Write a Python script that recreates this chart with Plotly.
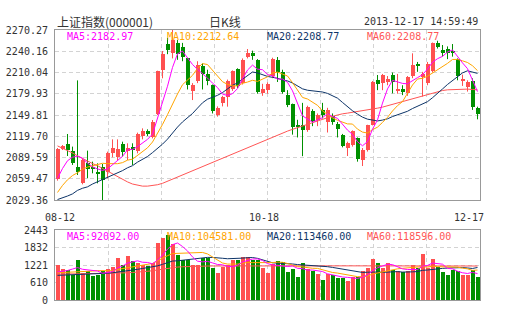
import plotly.graph_objects as go

# ---------------- data ----------------
x_tick_index = [0, 42, 84]
x_tick_text = ["08-12", "10-18", "12-17"]

open_ = [2058.7, 2101.6, 2108.7, 2099.3, 2076.6, 2053.9, 2081.3, 2076.6, 2069.5, 2075.7,
         2069.5, 2095.5, 2089.8, 2108.7, 2099.3, 2104.9, 2098.8, 2120.1, 2127.2, 2118.2,
         2150.8, 2213.6, 2251.0, 2237.0, 2252.0, 2246.0, 2230.0, 2184.5, 2198.0, 2219.3,
         2208.0, 2192.0, 2150.0, 2166.5, 2176.0, 2186.0, 2214.5, 2195.0, 2231.5, 2238.0,
         2228.0, 2181.0, 2185.7, 2205.0, 2228.0, 2211.0, 2178.0, 2165.0, 2136.0, 2136.0,
         2128.0, 2155.0, 2143.0, 2156.6, 2140.0, 2148.0, 2137.0, 2121.0, 2102.6, 2107.0,
         2116.8, 2086.0, 2100.2, 2135.6, 2199.5, 2194.7, 2196.0, 2206.5, 2185.0, 2186.0,
         2181.0, 2204.5, 2222.5, 2203.0, 2195.0, 2211.5, 2252.0, 2242.0, 2243.5, 2240.0,
         2228.5, 2198.5, 2189.0, 2197.5, 2160.0]
high = [2103.0, 2107.3, 2122.9, 2105.0, 2198.85, 2088.4, 2099.3, 2083.7, 2081.3, 2080.4,
        2097.9, 2115.3, 2115.3, 2112.0, 2109.7, 2109.7, 2124.8, 2130.9, 2129.5, 2142.7,
        2212.6, 2240.5, 2259.0, 2270.27, 2256.0, 2252.0, 2231.0, 2195.0, 2226.0, 2223.0,
        2214.0, 2193.0, 2162.0, 2177.0, 2200.0, 2213.0, 2216.0, 2230.0, 2243.3, 2241.0,
        2229.0, 2194.0, 2196.0, 2231.0, 2232.0, 2214.0, 2185.0, 2166.0, 2143.0, 2167.0,
        2163.0, 2158.0, 2152.0, 2167.0, 2160.0, 2152.0, 2140.0, 2123.0, 2112.0, 2128.0,
        2118.0, 2103.0, 2136.0, 2198.0, 2206.5, 2208.0, 2205.0, 2210.0, 2208.0, 2192.0,
        2205.0, 2237.2, 2225.0, 2211.0, 2225.0, 2252.5, 2255.0, 2249.0, 2247.0, 2250.4,
        2230.0, 2207.0, 2199.0, 2201.8, 2161.6]
low = [2056.8, 2100.2, 2091.7, 2079.0, 2064.8, 2051.6, 2060.1, 2067.2, 2053.0, 2029.36,
       2060.1, 2089.8, 2086.0, 2090.8, 2086.0, 2079.0, 2095.5, 2115.3, 2120.1, 2116.7,
       2149.8, 2201.8, 2236.0, 2230.0, 2228.0, 2226.0, 2186.0, 2171.0, 2195.0, 2186.0,
       2192.0, 2152.0, 2147.5, 2162.0, 2161.6, 2184.0, 2188.0, 2193.0, 2230.0, 2228.0,
       2180.0, 2177.0, 2180.0, 2202.0, 2196.6, 2180.0, 2161.0, 2122.0, 2118.0, 2091.5,
       2126.0, 2134.0, 2134.0, 2145.0, 2125.0, 2136.0, 2118.0, 2104.0, 2091.7, 2105.0,
       2083.7, 2077.5, 2098.0, 2135.0, 2185.0, 2185.0, 2192.0, 2180.5, 2180.0, 2178.0,
       2177.0, 2202.0, 2211.0, 2176.0, 2192.0, 2210.0, 2244.0, 2232.5, 2229.0, 2232.5,
       2199.0, 2191.0, 2183.0, 2157.0, 2143.7]
close = [2101.28, 2106.15, 2100.14, 2081.79, 2068.45, 2085.71, 2072.96, 2072.81, 2067.25, 2057.46,
         2096.47, 2103.57, 2101.30, 2097.23, 2103.2, 2100.2, 2123.11, 2127.62, 2122.44, 2139.86,
         2212.52, 2236.85, 2241.27, 2255.61, 2236.28, 2231.40, 2191.85, 2191.90, 2221.04, 2207.84,
         2198.6, 2155.80, 2160.30, 2174.67, 2198.11, 2211.60, 2191.29, 2228.15, 2238.29, 2233.41,
         2182.81, 2187.15, 2193.78, 2229.25, 2210.65, 2183.11, 2164.41, 2132.98, 2133.87, 2128.86,
         2160.46, 2141.61, 2149.56, 2149.62, 2157.24, 2139.80, 2129.40, 2106.13, 2109.47, 2126.77,
         2087.94, 2100.51, 2135.83, 2197.22, 2193.13, 2206.61, 2200.98, 2196.38, 2186.11, 2183.12,
         2203.60, 2220.50, 2220.50, 2207.37, 2222.67, 2251.76, 2245.66, 2237.11, 2238.00, 2237.92,
         2204.44, 2201.05, 2196.07, 2160.86, 2151.08]

ma5 = [2060.0, 2074.0, 2085.0, 2090.0, 2091.6, 2088.4, 2081.8, 2076.3, 2073.4, 2071.2,
       2073.4, 2079.5, 2085.2, 2091.2, 2100.4, 2101.1, 2105.0, 2110.3, 2115.3, 2122.6,
       2145.1, 2167.9, 2190.6, 2217.2, 2236.5, 2240.3, 2231.3, 2221.4, 2214.5, 2208.8,
       2202.2, 2195.0, 2188.7, 2179.4, 2177.5, 2180.1, 2187.2, 2200.8, 2213.5, 2220.5,
       2214.8, 2214.0, 2207.1, 2205.3, 2200.7, 2200.8, 2196.2, 2184.1, 2165.0, 2148.6,
       2144.1, 2139.6, 2142.9, 2146.0, 2151.7, 2147.6, 2145.1, 2136.4, 2128.4, 2122.3,
       2111.9, 2106.2, 2112.1, 2129.7, 2142.9, 2166.7, 2186.8, 2198.9, 2196.6, 2194.6,
       2194.0, 2197.9, 2202.8, 2207.0, 2214.9, 2224.6, 2229.6, 2232.9, 2239.0, 2242.1,
       2232.6, 2223.7, 2215.5, 2200.1, 2182.97]
ma10 = [2040.0, 2050.0, 2058.0, 2064.0, 2068.0, 2073.0, 2076.0, 2078.0, 2080.0, 2081.4,
        2080.9, 2080.7, 2080.8, 2082.3, 2085.8, 2087.2, 2092.3, 2097.7, 2103.3, 2111.5,
        2123.1, 2136.4, 2150.4, 2166.3, 2179.6, 2192.7, 2199.6, 2206.0, 2215.9, 2222.7,
        2221.3, 2213.2, 2205.1, 2197.0, 2193.2, 2191.2, 2191.1, 2194.7, 2196.5, 2199.0,
        2197.4, 2200.6, 2203.9, 2209.4, 2210.6, 2207.8, 2205.1, 2195.6, 2185.1, 2174.7,
        2172.5, 2167.9, 2163.5, 2155.5, 2150.2, 2145.8, 2142.3, 2139.7, 2137.2, 2137.0,
        2129.8, 2125.6, 2124.3, 2129.0, 2132.6, 2139.3, 2146.5, 2155.5, 2163.1, 2168.8,
        2180.3, 2192.3, 2200.8, 2201.8, 2204.8, 2209.3, 2213.8, 2217.8, 2223.0, 2228.5,
        2228.6, 2226.6, 2224.2, 2219.6, 2212.64]
ma20 = [2030.0, 2032.0, 2035.0, 2038.0, 2043.0, 2046.0, 2048.0, 2052.0, 2055.0, 2059.0,
        2062.0, 2065.0, 2068.0, 2071.0, 2075.0, 2078.0, 2083.0, 2087.0, 2091.0, 2096.5,
        2102.0, 2108.5, 2115.6, 2124.3, 2132.7, 2140.0, 2145.9, 2151.9, 2159.6, 2167.1,
        2172.2, 2174.8, 2177.7, 2181.6, 2186.4, 2191.9, 2195.3, 2200.4, 2206.2, 2210.8,
        2209.4, 2206.9, 2204.5, 2203.2, 2201.9, 2199.5, 2198.1, 2195.2, 2190.8, 2186.9,
        2184.9, 2184.2, 2183.7, 2182.4, 2180.4, 2176.8, 2173.7, 2167.6, 2161.2, 2155.8,
        2151.1, 2146.8, 2143.9, 2142.3, 2141.4, 2142.6, 2144.4, 2147.6, 2150.2, 2152.9,
        2155.1, 2159.0, 2162.5, 2165.4, 2168.7, 2174.3, 2180.1, 2186.7, 2193.1, 2198.6,
        2204.5, 2209.5, 2212.5, 2210.7, 2208.77]
ma60 = [2106, 2103, 2099, 2096, 2092, 2088, 2085, 2081, 2078, 2074,
        2070, 2066, 2062, 2058, 2055, 2052, 2050, 2049, 2049, 2049.5,
        2051, 2053, 2056, 2059, 2062, 2065, 2068, 2071, 2074, 2077,
        2080, 2083, 2086, 2089, 2092, 2095, 2098, 2101, 2104, 2107,
        2110, 2113, 2116, 2119, 2122, 2124.5, 2127, 2129.5, 2132, 2134.5,
        2137, 2139.5, 2142, 2144, 2146, 2148, 2150, 2151.5, 2152.5, 2153.5,
        2154.5, 2155.5, 2156.5, 2158, 2159.5, 2161, 2163, 2165, 2167, 2169,
        2171, 2173, 2175, 2177, 2179, 2181, 2183, 2184.5, 2185.5, 2186,
        2186.5, 2186.5, 2186.5, 2186, 2185.5]

volume = [1233, 1093, 1035, 884, 1408, 942, 1000, 826, 884, 1000,
          1093, 1152, 1466, 1210, 1524, 1350, 1291, 1210, 1175, 1291,
          1989, 2164, 2257, 1954, 1582, 1384, 1384, 1210, 1210, 1466,
          1466, 1117, 942, 1152, 1210, 1384, 1384, 1489, 1489, 1410,
          1410, 1100, 945, 1240, 1355, 1325, 975, 1065, 810, 1300,
          1065, 995, 900, 710, 900, 880, 760, 760, 650, 790,
          800, 1000, 1110, 1420, 1290, 1120, 1290, 1050, 1000, 980,
          1000, 1230, 1100, 1590, 1110, 1420, 1150, 980, 860, 1030,
          1000, 880, 860, 1050, 815]
vma5 = [980, 1000, 1030, 1080, 1131, 1072, 1054, 1012, 1012, 930,
        961, 991, 1119, 1184, 1289, 1340, 1368, 1317, 1310, 1263,
        1391, 1566, 1775, 1931, 1989, 1868, 1712, 1503, 1354, 1331,
        1347, 1294, 1240, 1229, 1177, 1161, 1214, 1324, 1391, 1431,
        1436, 1380, 1271, 1221, 1210, 1193, 1168, 1192, 1106, 1095,
        1043, 1047, 1014, 994, 914, 877, 830, 802, 790, 768,
        752, 800, 870, 1024, 1124, 1188, 1246, 1234, 1150, 1088,
        1064, 1052, 1062, 1180, 1206, 1290, 1274, 1250, 1104, 1088,
        1004, 950, 926, 964, 921]
vma10 = [950, 955, 960, 965, 975, 985, 995, 1010, 1025, 1031,
         1017, 1022, 1066, 1098, 1110, 1151, 1180, 1218, 1247, 1276,
         1366, 1467, 1546, 1621, 1626, 1630, 1639, 1639, 1643, 1660,
         1608, 1503, 1372, 1291, 1254, 1254, 1254, 1282, 1310, 1304,
         1299, 1297, 1297, 1306, 1321, 1315, 1274, 1231, 1164, 1153,
         1118, 1108, 1103, 1050, 1005, 960, 939, 908, 892, 841,
         815, 815, 836, 907, 946, 970, 1023, 1052, 1087, 1106,
         1126, 1149, 1148, 1165, 1147, 1177, 1163, 1156, 1142, 1147,
         1147, 1112, 1088, 1034, 1046]
vma20 = [860, 865, 870, 875, 880, 890, 900, 905, 910, 920,
         935, 950, 970, 990, 1010, 1040, 1070, 1100, 1125, 1153,
         1191, 1245, 1306, 1359, 1368, 1390, 1409, 1429, 1445, 1468,
         1487, 1485, 1459, 1456, 1440, 1442, 1447, 1461, 1476, 1482,
         1453, 1400, 1334, 1299, 1287, 1284, 1264, 1257, 1237, 1228,
         1208, 1202, 1200, 1178, 1163, 1137, 1106, 1070, 1028, 997,
         966, 961, 970, 979, 975, 965, 981, 980, 990, 974,
         970, 982, 992, 1036, 1047, 1074, 1093, 1104, 1115, 1127,
         1137, 1131, 1118, 1100, 1135]
vma60 = [900, 902, 904, 906, 908, 910, 912, 914, 916, 918,
         920, 925, 930, 940, 950, 960, 970, 985, 1000, 1020,
         1050, 1080, 1110, 1130, 1150, 1160, 1170, 1175, 1180, 1183,
         1185, 1187, 1188, 1190, 1190, 1190, 1191, 1192, 1193, 1194,
         1195, 1196, 1197, 1198, 1199, 1200, 1201, 1202, 1202, 1202,
         1201, 1200, 1199, 1198, 1197, 1196, 1195, 1194, 1193, 1192,
         1191, 1190, 1190, 1190, 1190, 1190, 1190, 1190, 1190, 1190,
         1190, 1190, 1190, 1190, 1189, 1189, 1188, 1188, 1188, 1187,
         1187, 1187, 1186, 1186, 1186]

price_tick_vals = [2029.36, 2059.47, 2089.59, 2119.70, 2149.81, 2179.93, 2210.04, 2240.16, 2270.27]
price_tick_text = ["2029.36", "2059.47", "2089.59", "2119.70", "2149.81", "2179.93", "2210.04", "2240.16", "2270.27"]
vol_tick_vals = [0, 610.75, 1221.5, 1832.25, 2443]
vol_tick_text = ["0", "610", "1221", "1832", "2443"]

price_labels = ["MA5:2182.97", "MA10:2212.64", "MA20:2208.77", "MA60:2208.77"]
vol_labels = ["MA5:92092.00", "MA10:104581.00", "MA20:113460.00", "MA60:118596.00"]

# ---------------- styling ----------------
RED = "#FF5050"
GREEN = "#009000"
C5, C10, C20, C60 = "#FF00FF", "#FFA500", "#0D3468", "#FF5555"
GRID = "#D3D3D3"
MONO = "DejaVu Sans Mono"

n = len(close)
xs = list(range(n))
up = [c >= o for o, c in zip(open_, close)]
colors = [RED if u else GREEN for u in up]

fig = go.Figure()

# candle bodies
body_base = [min(o, c) for o, c in zip(open_, close)]
body_h = [max(abs(c - o), 1.2) for o, c in zip(open_, close)]

# wicks
for flag, col in ((True, RED), (False, GREEN)):
    wx, wy = [], []
    for i in xs:
        if up[i] == flag:
            wx += [i, i, None]
            wy += [low[i], high[i], None]
    fig.add_trace(go.Scatter(x=wx, y=wy, mode="lines", line=dict(color=col, width=1),
                             hoverinfo="skip", xaxis="x", yaxis="y"))

fig.add_trace(go.Bar(x=xs, y=body_h, base=body_base, width=0.8,
                     marker=dict(color=colors, line=dict(width=0)), xaxis="x", yaxis="y"))

for arr, col in ((ma60, C60), (ma20, C20), (ma10, C10), (ma5, C5)):
    fig.add_trace(go.Scatter(x=xs, y=arr, mode="lines", line=dict(color=col, width=1),
                             xaxis="x", yaxis="y"))

# volume
fig.add_trace(go.Bar(x=xs, y=volume, width=0.8, marker=dict(color=colors, line=dict(width=0)),
                     xaxis="x2", yaxis="y2"))
for arr, col in ((vma60, C60), (vma20, C20), (vma10, C10), (vma5, C5)):
    fig.add_trace(go.Scatter(x=xs, y=arr, mode="lines", line=dict(color=col, width=1),
                             xaxis="x2", yaxis="y2"))

# layout geometry: plot area 55..480 x 30..300
L, R, T, B, W, H = 55, 25, 30, 30, 505, 330
ph = H - T - B
main_bottom = (300 - 200) / ph
vol_top = (300 - 230) / ph

xgrid = [-0.5 + (n / 8.0) * k for k in range(1, 8)]
common_x = dict(range=[-0.5, n - 0.5], tickvals=xgrid, showticklabels=False, ticks="",
                showgrid=True, gridcolor=GRID, griddash="4px,3px", gridwidth=1,
                zeroline=False, showline=True, mirror=True, linecolor="#999999", linewidth=1)
common_y = dict(showgrid=True, gridcolor=GRID, griddash="4px,3px", gridwidth=1, zeroline=False,
                showline=True, mirror=True, linecolor="#999999", linewidth=1, ticks="",
                tickfont=dict(family=MONO, size=10, color="#333333"), ticklabelstandoff=4)

fig.update_layout(
    width=W, height=H, margin=dict(l=L, r=R, t=T, b=B, autoexpand=False),
    paper_bgcolor="white", plot_bgcolor="white", showlegend=False, bargap=0,
    xaxis=dict(domain=[0, 1], anchor="y", **common_x),
    xaxis2=dict(domain=[0, 1], anchor="y2", matches="x", **common_x),
    yaxis=dict(domain=[main_bottom, 1], range=[price_tick_vals[0], price_tick_vals[-1]],
               tickvals=price_tick_vals, ticktext=price_tick_text, anchor="x", **common_y),
    yaxis2=dict(domain=[0, vol_top], range=[0, vol_tick_vals[-1]],
                tickvals=vol_tick_vals, ticktext=vol_tick_text, anchor="x2", **common_y),
)

ann = []
# header
ann.append(dict(text="上证指数(000001)", x=0, y=(300 - 22) / ph, xref="paper", yref="paper",
                xanchor="left", yanchor="middle", showarrow=False,
                font=dict(family="Noto Sans CJK SC", size=12, color="#333333")))
ann.append(dict(text="日K线", x=(225 - L) / 425, y=(300 - 22) / ph, xref="paper", yref="paper",
                xanchor="center", yanchor="middle", showarrow=False,
                font=dict(family="Noto Sans CJK SC", size=12, color="#333333")))
ann.append(dict(text="2013-12-17 14:59:49", x=1, y=(300 - 22) / ph, xref="paper", yref="paper",
                xanchor="right", yanchor="middle", showarrow=False,
                font=dict(family=MONO, size=10, color="#333333")))
# MA labels
lab_x = [(65 - L) / 425, (165 - L) / 425, (265 - L) / 425, (365 - L) / 425]
lab_c = [C5, C10, C20, C60]
for t, xx, cc in zip(price_labels, lab_x, lab_c):
    ann.append(dict(text=t, x=xx, y=(300 - 37) / ph, xref="paper", yref="paper", xanchor="left",
                    yanchor="middle", showarrow=False, font=dict(family=MONO, size=10, color=cc)))
for t, xx, cc in zip(vol_labels, lab_x, lab_c):
    ann.append(dict(text=t, x=xx, y=(300 - 236) / ph, xref="paper", yref="paper", xanchor="left",
                    yanchor="middle", showarrow=False, font=dict(family=MONO, size=10, color=cc)))
# date labels
shifts = [2, -4, -9]
for idx, t, s in zip(x_tick_index, x_tick_text, shifts):
    ann.append(dict(text=t, x=idx, y=(300 - 217) / ph, xref="x", yref="paper", xanchor="center",
                    yanchor="middle", xshift=s, showarrow=False,
                    font=dict(family=MONO, size=10, color="#333333")))
fig.update_layout(annotations=ann)

fig.write_html("out.html")
